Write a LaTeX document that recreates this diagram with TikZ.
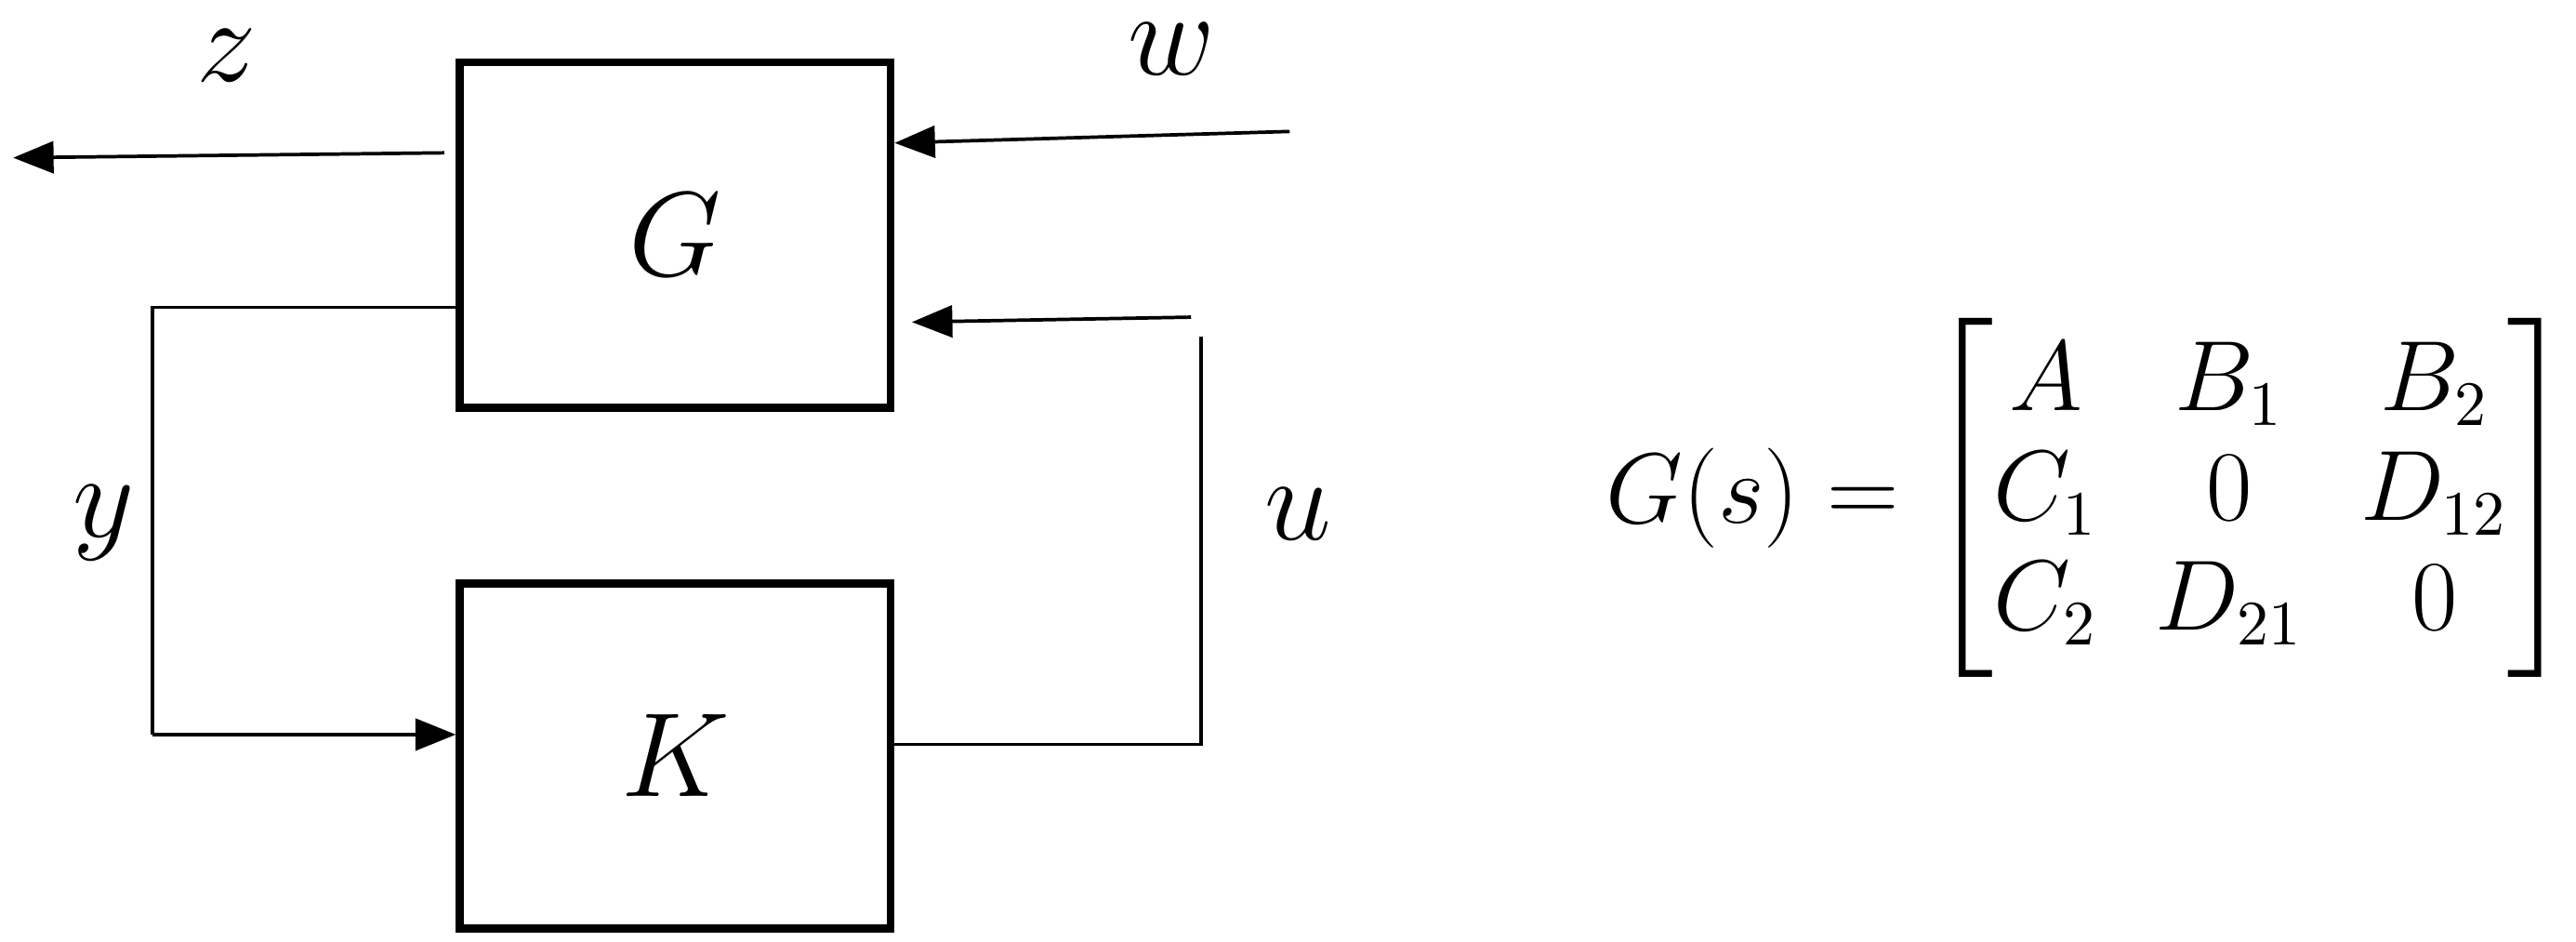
\documentclass[tikz,border=0pt]{standalone}
\usepackage{amsmath}
\usetikzlibrary{arrows.meta}
\tikzset{
  blk/.style={draw, line width=1.4pt, minimum width=2.62cm, minimum height=2.1cm, font=\fontsize{20}{24}\selectfont},
  sig/.style={line width=0.6pt},
  lbl/.style={font=\fontsize{20}{24}\selectfont}
}
\begin{document}
\begin{tikzpicture}[x=0.01cm,y=-0.01cm, >={Triangle[length=7pt,width=5.5pt]}]
    \useasboundingbox (0,0) rectangle (1568,573);

    \node[blk] (G) at (411,143) {$G$};
    \node[blk] (K) at (411,460) {$K$};

    \coordinate (zout) at (8,96);
    \coordinate (win) at (785,80);
    \coordinate (ustart) at (725,193);
    \coordinate (uend) at (731,205);
    \coordinate (ycorner) at (93,447);

    \draw[sig,->] ([xshift=-2]G.west |- 0,93) -- (zout);
    \draw[sig,->] (win) -- (G.east |- 0,87);
    \draw[sig,->] (ustart) -- ([xshift=3]G.east |- 0,196);
    \draw[sig] (G.west |- 0,187) -| (ycorner);
    \draw[sig,->] (ycorner) -- (K.west |- ycorner);
    \draw[sig] (K.east |- 0,453) -| (uend);

    \node[lbl] (zl) at (138,34) {$z$};
    \node[lbl] (wl) at (713,30) {$w$};
    \node[lbl] (yl) at (63,318) {$y$};
    \node[lbl] (ul) at (790,313) {$u$};

    \node[font=\fontsize{16}{19}\selectfont, anchor=west] (Gs) at (965,303) {$G(s)=\begin{bmatrix}
        A & B_1 & B_2\\
        C_1 & 0 & D_{12}\\
        C_2 & D_{21} & 0
      \end{bmatrix}$};
\end{tikzpicture}
\end{document}
